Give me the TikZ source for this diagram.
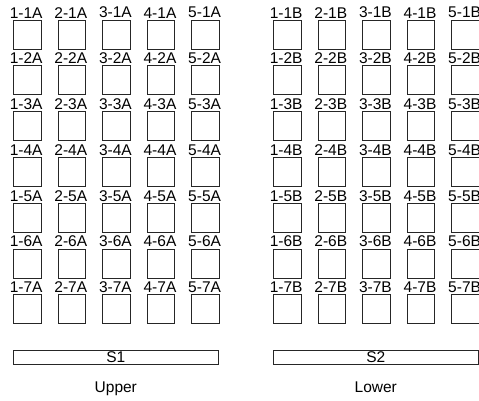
\documentclass[tikz,border=0pt]{standalone}
\usepackage{fontspec}
\setmainfont{Liberation Sans}
\usetikzlibrary{positioning}
\tikzset{
  % one slot of a tray
  cell/.style={
    rectangle, draw=black!85, fill=white, line width=0.8pt,
    minimum width=27.5pt, minimum height=29pt, inner sep=0pt
  },
  cellname/.style={font=\fontsize{15.5}{15.5}\selectfont, inner sep=1pt},
  % tray strip under the grid
  strip/.style={
    rectangle, draw=black!85, line width=0.8pt, minimum width=205pt,
    minimum height=14pt, inner sep=0pt, font=\fontsize{15.5}{15.5}\selectfont
  },
  traytitle/.style={font=\fontsize{15.5}{15.5}\selectfont, inner sep=0pt}
}

\begin{document}
\begin{tikzpicture}[x=1pt, y=-1pt]
  \useasboundingbox (0,0) rectangle (479,400);

  % Upper tray
  \foreach \r in {1,...,7} {
    \foreach \c in {1,...,5} {
      \node[cell] (a-\r-\c) at ({27.2+44.6*(\c-1)}, {34.5+45.8*(\r-1)}) {};
      \node[cellname, above=0.3pt of a-\r-\c, xshift=-1pt] (ta-\r-\c) {\c-\r A};
    }
  }
  \node[strip] (s1) at (115.8,357) {S1};
  \node[traytitle, below=17pt of s1] (upper) {Upper};

  % Lower tray
  \foreach \r in {1,...,7} {
    \foreach \c in {1,...,5} {
      \node[cell] (b-\r-\c) at ({287.2+44.6*(\c-1)}, {34.5+45.8*(\r-1)}) {};
      \node[cellname, above=0.3pt of b-\r-\c, xshift=-1pt] (tb-\r-\c) {\c-\r B};
    }
  }
  \node[strip] (s2) at (375.8,357) {S2};
  \node[traytitle, below=17pt of s2] (lower) {Lower};
\end{tikzpicture}
\end{document}
